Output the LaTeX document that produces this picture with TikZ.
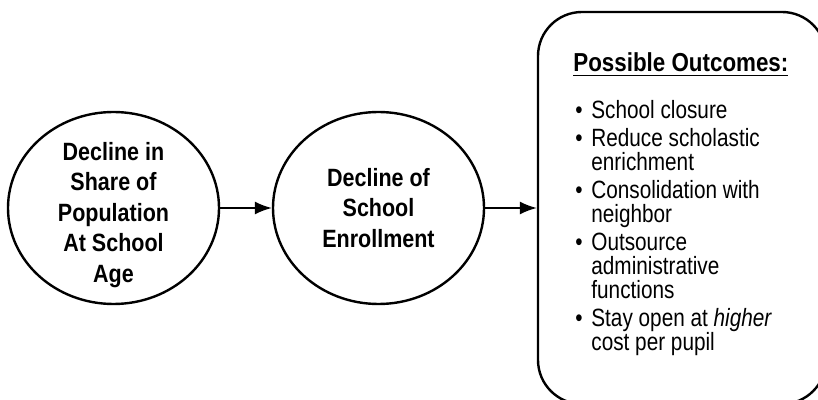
\documentclass[tikz,border=0pt]{standalone}
\usepackage{fontspec}
\setmainfont[FakeStretch=0.86]{Liberation Sans}
\newfontfamily\listfont[FakeStretch=0.83]{Liberation Sans}
\usetikzlibrary{arrows.meta,positioning,shapes.geometric}

\newcommand{\itm}{\makebox[8pt][l]{\textbullet}}
\newcommand{\ind}{\hspace*{8pt}}

\begin{document}
\begin{tikzpicture}[x=0.5pt, y=-0.5pt,
  bubble/.style = {ellipse, draw=black, line width=1.2pt, minimum width=105.5pt, minimum height=96pt, inner sep=0pt},
  bubbletext/.style = {align=center, inner sep=0pt, font=\bfseries\fontsize{12.5}{15.25}\selectfont},
  flow/.style = {-{Latex[length=8.5pt,width=6.5pt]}, line width=0.8pt}]
  \useasboundingbox (0,0) rectangle (818,400);

  \node (share) [bubble] at (113.5,208) {};
  \node (sharetext) [bubbletext, yshift=-3.5pt] at (share.center) {Decline in\\Share of\\Population\\At School\\Age};

  \node (enroll) [bubble] at (378.5,208) {};
  \node (enrolltext) [bubbletext] at (enroll.center) {Decline of\\School\\Enrollment};

  % box of outcomes, runs off the right and bottom edge
  \node (outcomes) [draw=black, line width=1.2pt, rounded corners=22pt, minimum width=144pt, minimum height=196pt] at (682,208) {};
  \node (head) [anchor=base west, inner sep=0pt, font=\bfseries\fontsize{13}{16}\selectfont] at (573,72) {\underline{Possible Outcomes:}};
  \node (list) [anchor=north west, inner sep=0pt, align=left, font=\listfont\fontsize{12.5}{12}\selectfont] at (575,100)
    {\itm School closure\\[2pt]
     \itm Reduce scholastic\\
     \ind enrichment\\[2pt]
     \itm Consolidation with\\
     \ind neighbor\\[2pt]
     \itm Outsource\\
     \ind administrative\\
     \ind functions\\[2pt]
     \itm Stay open at \textit{higher}\\
     \ind cost per pupil};

  \draw [flow] (share) -- (enroll);
  \draw [flow] (enroll) -- (outcomes);
\end{tikzpicture}
\end{document}
